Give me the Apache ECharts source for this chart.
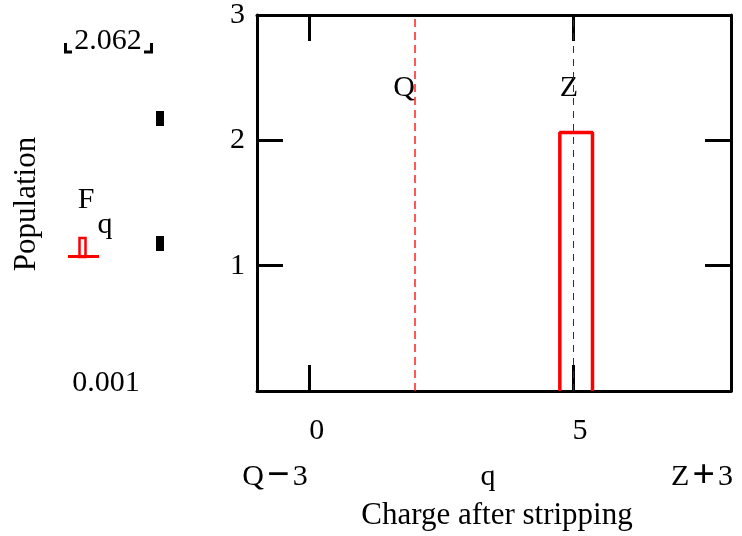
<!DOCTYPE html>
<html>
<head>
<meta charset="utf-8">
<script src="https://cdn.jsdelivr.net/npm/echarts@6/dist/echarts.min.js"></script>
<style>
  html, body { margin: 0; padding: 0; background: #fff; }
  #main { width: 742px; height: 536px; }
</style>
</head>
<body>
<div id="main"></div>
<script>
// charge range shown: Q-3 .. Z+3
var Q = 2;
var Z = 5;
var xRange = [-1, 8];
var xTicks = [0, 5];
var yTicks = [1, 2, 3];
// population per charge state (open step outline)
var barEdges = [4.75, 5.37];
var barHeight = 2.062;
var markLabels = [
  { name: 'Q', x: Q, y: 2.42, dx: -11 },
  { name: 'Z', x: Z, y: 2.42, dx: -4 }
];
var legendMax = '2.062';
var legendMin = '0.001';

var font = '"Liberation Serif", "DejaVu Serif", serif';
var chart = echarts.init(document.getElementById('main'));

var barLine = [
  [barEdges[0], 0],
  [barEdges[0], barHeight],
  [barEdges[1], barHeight],
  [barEdges[1], 0]
];

//四边框 + 内向刻度
var axisLine = { show: true, onZero: false, lineStyle: { color: '#000', width: 3 } };
var tickIn = { show: true, inside: true, length: 26, lineStyle: { color: '#000', width: 3 } };

function txt(x, y, s, rot, size) {
  return {
    type: 'text', x: x, y: y, rotation: rot || 0, silent: true,
    style: { text: s, x: 0, y: 0, fill: '#000', font: (size || 30) + 'px ' + font, textAlign: 'center', textVerticalAlign: 'middle' }
  };
}
// 运算符加粗 (Q − 3, Z + 3)
function opTxt(x, y, a, op, b) {
  var el = txt(x, y, '{t|' + a + '}{o|' + op + '}{t|' + b + '}');
  el.style.rich = {
    t: { fontFamily: font, fontSize: 30, fill: '#000' },
    o: { fontFamily: font, fontSize: 40, fontWeight: 'bold', fill: '#000', padding: [0, 3, 0, 3] }
  };
  return el;
}

chart.setOption({
  animation: false,
  backgroundColor: '#fff',
  grid: { left: 257, right: 11, top: 15, bottom: 145 },
  xAxis: [
    {
      type: 'value', min: xRange[0], max: xRange[1], position: 'bottom',
      axisLine: axisLine,
      axisTick: Object.assign({ customValues: xTicks }, tickIn),
      axisLabel: { customValues: xTicks, margin: 25, color: '#000', fontFamily: font, fontSize: 30, padding: [0, 0, 0, 14] },
      splitLine: { show: false }
    },
    {
      type: 'value', min: xRange[0], max: xRange[1], position: 'top',
      axisLine: axisLine,
      axisTick: Object.assign({ customValues: xTicks }, tickIn),
      axisLabel: { show: false },
      splitLine: { show: false }
    }
  ],
  yAxis: [
    {
      type: 'value', min: 0, max: 3, interval: 1, position: 'left',
      axisLine: axisLine,
      axisTick: tickIn,
      axisLabel: {
        margin: 12, color: '#000', fontFamily: font, fontSize: 30,
        formatter: function (v) { return yTicks.indexOf(v) >= 0 ? String(v) : ''; }
      },
      splitLine: { show: false }
    },
    {
      type: 'value', min: 0, max: 3, interval: 1, position: 'right',
      axisLine: axisLine,
      axisTick: tickIn,
      axisLabel: { show: false },
      splitLine: { show: false }
    }
  ],
  series: [
    {
      type: 'line',
      data: barLine,
      symbol: 'none',
      lineStyle: { color: '#ff0000', width: 3.5 },
      z: 3,
      markLine: {
        silent: true,
        symbol: 'none',
        label: { show: false },
        data: [
          { xAxis: Q, lineStyle: { color: '#ff2020', width: 1.5, type: [8, 5] } },
          { xAxis: Z, lineStyle: { color: '#a00000', width: 1, type: [7, 6] } }
        ]
      }
    },
    {
      type: 'scatter',
      symbolSize: 0,
      itemStyle: { opacity: 1 },
      data: markLabels.map(function (m) {
        return {
          value: [m.x, m.y], name: m.name,
          label: {
            show: true, position: [m.dx, 0], align: 'center', verticalAlign: 'middle',
            formatter: '{b}', color: '#000', fontFamily: font, fontSize: 30
          }
        };
      })
    }
  ],
  graphic: [
    txt(108, 41, legendMax),
    { type: 'polyline', shape: { points: [[65.5, 43], [65.5, 52], [72, 52]] }, style: { stroke: '#000', lineWidth: 3, fill: null } },
    { type: 'polyline', shape: { points: [[144, 52], [151.5, 52], [151.5, 43]] }, style: { stroke: '#000', lineWidth: 3, fill: null } },
    { type: 'rect', shape: { x: 156, y: 111, width: 8, height: 15 }, style: { fill: '#000' } },
    { type: 'rect', shape: { x: 156, y: 236, width: 8, height: 15 }, style: { fill: '#000' } },
    txt(86, 200, 'F'),
    txt(105, 225, 'q'),
    { type: 'rect', shape: { x: 79.5, y: 238, width: 6, height: 19 }, style: { stroke: '#ff0000', lineWidth: 2.5, fill: null } },
    { type: 'line', shape: { x1: 68, y1: 256.5, x2: 99, y2: 256.5 }, style: { stroke: '#ff0000', lineWidth: 3 } },
    txt(106, 383, legendMin),
    txt(27, 204, 'Population', Math.PI / 2, 31),
    opTxt(275, 477, 'Q', '\u2212', '3'),
    txt(488, 477, 'q'),
    opTxt(702, 477, 'Z', '+', '3'),
    txt(497, 516, 'Charge after stripping', 0, 31)
  ]
});
</script>
</body>
</html>
